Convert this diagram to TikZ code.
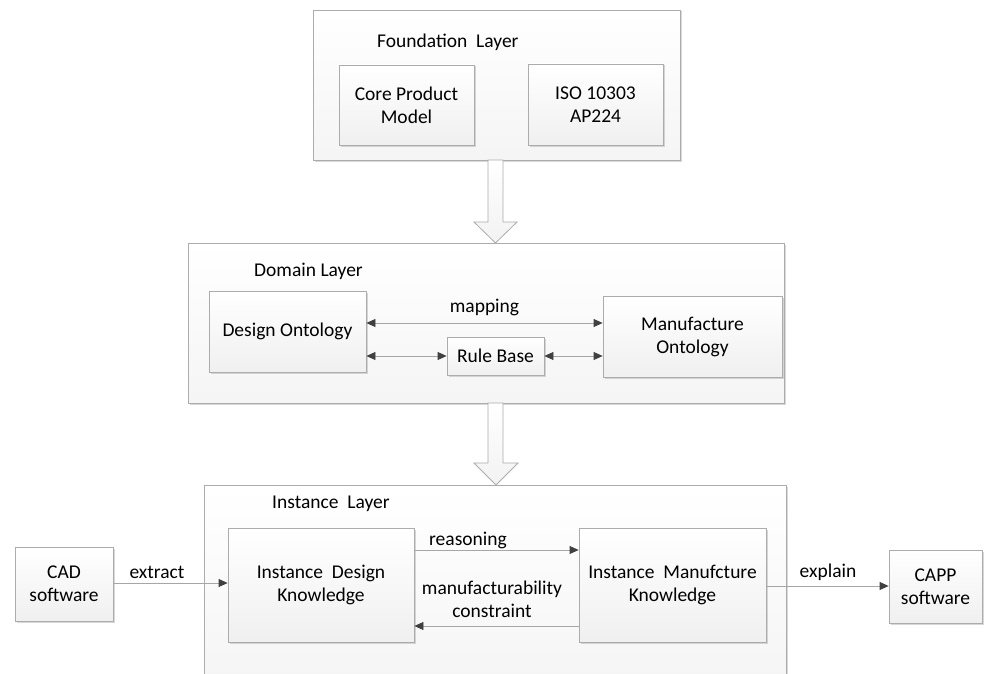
\documentclass[tikz,border=0pt]{standalone}
\usepackage{fontspec}
\setmainfont{Carlito}
\usetikzlibrary{arrows.meta,shadows}
\tikzset{
  box/.style={draw=gray!65, line width=0.8pt, top color=white, bottom color=gray!12, align=center, inner sep=0pt,
    drop shadow={opacity=0.3, shadow xshift=1.5pt, shadow yshift=-1.5pt}},
  layerbox/.style={box, top color=white, bottom color=gray!8},
  lbl/.style={font=\fontsize{19.5}{23}\selectfont, inner sep=0pt},
  onearrow/.style={draw=gray!70, line width=0.8pt, -{Triangle[length=9pt,width=8pt,color=black!75]}},
  biarrow/.style={draw=gray!70, line width=0.8pt, {Triangle[length=9pt,width=8pt,color=black!75]}-{Triangle[length=9pt,width=8pt,color=black!75]}},
  blockarrow/.style={draw=gray!65, line width=0.8pt, top color=white, bottom color=gray!10}
}
\begin{document}
\begin{tikzpicture}[x=1pt,y=-1pt, font=\fontsize{19.5}{23}\selectfont]
\useasboundingbox (0,0) rectangle (987,674);
\fill[white] (0,0) rectangle (987,674);
\clip (0,0) rectangle (987,674);

% Foundation layer
\node[layerbox, minimum width=367pt, minimum height=150pt] (found) at (496.5,85) {};
\node[lbl, anchor=west] (foundlbl) at (377,42) {Foundation\ \ Layer};
\node[box, minimum width=135pt, minimum height=80pt] (core) at (406.5,105) {Core Product\\Model};
\node[box, minimum width=135pt, minimum height=81pt] (iso) at (595.5,104.5) {ISO 10303\\AP224};

% Block arrow 1
\path[blockarrow] (488,160) -- (488,222) -- (474,222) -- (495.5,243) -- (517,222) -- (503,222) -- (503,160) -- cycle;

% Domain layer
\node[layerbox, minimum width=596pt, minimum height=160pt] (domain) at (486,323) {};
\node[lbl, anchor=west] (domainlbl) at (254,271) {Domain Layer};
\node[box, minimum width=157pt, minimum height=81pt] (design) at (287.5,331.5) {Design Ontology};
\node[box, minimum width=179pt, minimum height=81pt] (manu) at (692.5,336.5) {Manufacture\\Ontology};
\node[box, minimum width=97pt, minimum height=38pt] (rule) at (495.5,356) {Rule Base};
\coordinate (mapy) at (0,323);
\draw[biarrow] (design.east |- mapy) -- node[lbl, above=7pt] (mapping) {mapping} (manu.west |- mapy);
\draw[biarrow] (design.east |- rule.west) -- (rule.west);
\draw[biarrow] (rule.east) -- (manu.west |- rule.east);

% Block arrow 2
\path[blockarrow] (488,403) -- (488,463) -- (474,463) -- (496,485) -- (518,463) -- (503,463) -- (503,403) -- cycle;

% Instance layer
\node[layerbox, minimum width=582pt, minimum height=200pt] (inst) at (495,585) {};
\node[lbl, anchor=west] (instlbl) at (272,504) {Instance\ \ Layer};
\node[box, minimum width=186pt, minimum height=114pt] (idk) at (321,585) {Instance\ \ Design\\Knowledge};
\node[box, minimum width=187pt, minimum height=114pt] (imk) at (672.5,585) {Instance\ \ Manufcture\\Knowledge};
\node[box, minimum width=98pt, minimum height=74pt] (cad) at (64,584) {CAD\\software};
\node[box, minimum width=93pt, minimum height=73pt] (capp) at (935.5,586.5) {CAPP\\software};

\coordinate (exty) at (0,583);
\draw[onearrow] (cad.east |- exty) -- (idk.west |- exty);
\node[lbl] (extract) at (157,572) {extract};

\coordinate (reay) at (0,550);
\draw[onearrow] (idk.east |- reay) -- (imk.west |- reay);
\node[lbl] (reasoning) at (468,540) {reasoning};

\coordinate (cony) at (0,626);
\draw[onearrow] (imk.west |- cony) -- (idk.east |- cony);
\node[lbl, align=center] (constraint) at (492,599) {manufacturability\\constraint};

\coordinate (expy) at (0,586);
\draw[onearrow] (imk.east |- expy) -- (capp.west |- expy);
\node[lbl] (explain) at (828,572) {explain};
\end{tikzpicture}
\end{document}
